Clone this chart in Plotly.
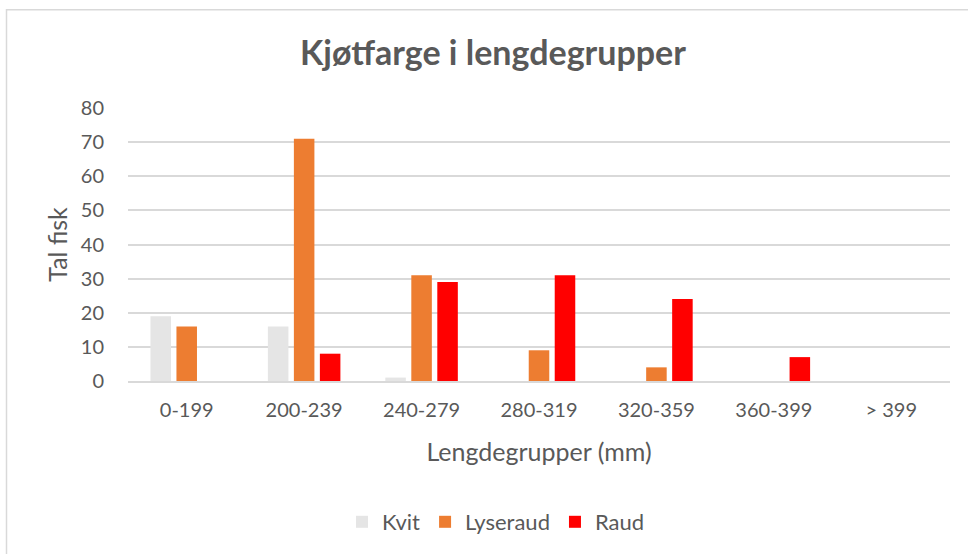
import plotly.graph_objects as go

categories = ["0-199", "200-239", "240-279", "280-319", "320-359", "360-399", "> 399"]
kvit = [19, 16, 1, 0, 0, 0, 0]
lyseraud = [16, 71, 31, 9, 4, 0, 0]
raud = [0, 8, 29, 31, 24, 7, 0]
y_ticks = [0, 10, 20, 30, 40, 50, 60, 70, 80]

W, H = 968, 554
L, R, T, B = 128, 18, 108, 172
pw, ph = W - L - R, H - T - B

def px(x):
    return (x - L) / pw

def py(y):
    return (H - B - y) / ph

TXT = "#595959"
FONT = "Lato"

fig = go.Figure()
fig.add_bar(name="Kvit", x=categories, y=kvit, marker=dict(color="#E5E5E5", line=dict(width=0)))
fig.add_bar(name="Lyseraud", x=categories, y=lyseraud, marker=dict(color="#ED7D31", line=dict(width=0)))
fig.add_bar(name="Raud", x=categories, y=raud, marker=dict(color="#FF0000", line=dict(width=0)))

fig.update_layout(
    width=W, height=H,
    margin=dict(l=L, r=R, t=T, b=B),
    paper_bgcolor="white", plot_bgcolor="white",
    barmode="group", bargap=0.336, bargroupgap=0.21,
    font=dict(family=FONT, color=TXT, size=20),
    title=dict(text="<b>Kjøtfarge i lengdegrupper</b>", x=493 / W, xanchor="center",
               y=1 - 53 / H, yanchor="middle", font=dict(size=34, color=TXT, family=FONT)),
    showlegend=True,
    legend=dict(orientation="h", x=px(496), xanchor="center", y=py(522), yanchor="middle",
                font=dict(size=22, color=TXT), traceorder="normal", itemwidth=30),
    xaxis=dict(showgrid=False, showline=True, linecolor="#D9D9D9", linewidth=1.5,
               ticks="", tickfont=dict(size=20, color=TXT), ticklabelstandoff=10,
               title=dict(text="Lengdegrupper (mm)", font=dict(size=25, color=TXT), standoff=24)),
    yaxis=dict(range=[0, 80], tickvals=y_ticks, showgrid=True, gridcolor="#D9D9D9", gridwidth=1.5,
               zeroline=False, showline=False, ticks="", tickfont=dict(size=20, color=TXT),
               ticklabelstandoff=23,
               title=dict(text="Tal fisk", font=dict(size=25, color=TXT), standoff=6)),
    shapes=[dict(type="rect", xref="paper", yref="paper", x0=px(6.5), x1=px(980), y0=py(570), y1=py(9.5),
                 line=dict(color="#D9D9D9", width=1.5), fillcolor="rgba(0,0,0,0)", layer="below")],
)

fig.write_html("out.html", config={"displayModeBar": False},
               post_script="document.body.style.margin='0';")
